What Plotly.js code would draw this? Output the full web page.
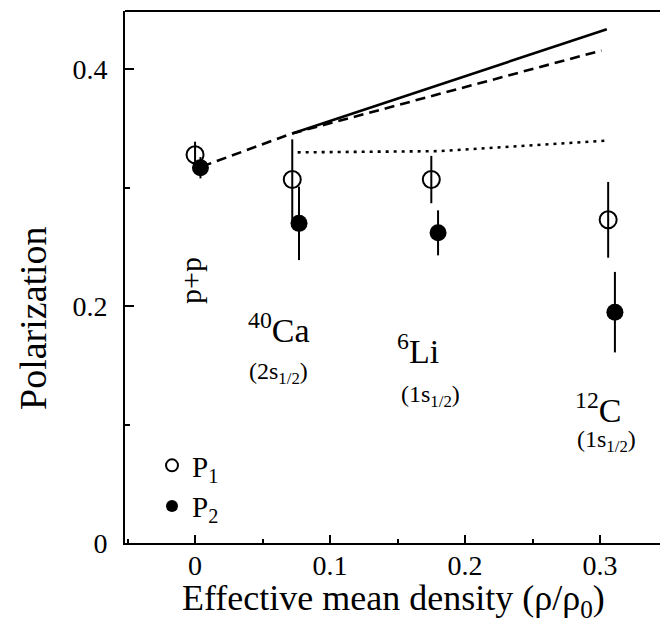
<!DOCTYPE html>
<html>
<head>
<meta charset="utf-8">
<script src="https://cdn.plot.ly/plotly-3.0.1.min.js"></script>
<style>html,body{margin:0;padding:0;background:#fff;overflow:hidden}</style>
</head>
<body>
<div id="chart" style="width:660px;height:624px"></div>
<script>
// Data points (effective mean density, polarization, error)
const nuclei = ["p+p", "40Ca", "6Li", "12C"];
const p1X = [0.000, 0.072, 0.175, 0.306];
const p1Y = [0.328, 0.307, 0.307, 0.273];
const p1Err = [0.011, 0.034, 0.020, 0.032];
const p2X = [0.004, 0.077, 0.180, 0.311];
const p2Y = [0.317, 0.270, 0.262, 0.195];
const p2Err = [0.009, 0.031, 0.019, 0.034];

// Theory curves
const dashX = [0.005, 0.072, 0.301];
const dashY = [0.318, 0.346, 0.416];
const solidX = [0.072, 0.305];
const solidY = [0.346, 0.434];
const dotX = [0.076, 0.18, 0.306];
const dotY = [0.330, 0.331, 0.340];

const xTicks = [0, 0.1, 0.2, 0.3];
const xTickText = ["0", "0.1", "0.2", "0.3"];
const yTicks = [0, 0.2, 0.4];
const yTickText = ["0", "0.2", "0.4"];

const FONT = "Liberation Serif, Times New Roman, serif";
const traces = [
  {x: dashX, y: dashY, mode: "lines", line: {color: "#000", width: 2.6, dash: "10px,6px"}, showlegend: false, hoverinfo: "skip"},
  {x: solidX, y: solidY, mode: "lines", line: {color: "#000", width: 2.6}, showlegend: false, hoverinfo: "skip"},
  {x: dotX, y: dotY, mode: "lines", line: {color: "#000", width: 2.6, dash: "3px,5px"}, showlegend: false, hoverinfo: "skip"},
  {x: p1X, y: p1Y, mode: "markers", showlegend: false, hoverinfo: "skip",
   marker: {symbol: "circle", size: 15, color: "#fff"}},
  {x: p1X, y: p1Y, name: "P<sub>1</sub>", mode: "markers", legendgroup: "a",
   error_y: {type: "data", array: p1Err, width: 0, thickness: 2, color: "#000"},
   marker: {symbol: "circle-open", size: 17, color: "#000", line: {width: 2, color: "#000"}}},
  {x: p2X, y: p2Y, name: "P<sub>2</sub>", mode: "markers", legendgroup: "b",
   error_y: {type: "data", array: p2Err, width: 0, thickness: 2, color: "#000"},
   marker: {symbol: "circle", size: 17, color: "#000"}}
];

const L = 125, R = 660, T = 11, B = 543;
const px = v => (v - L) / (R - L);
const py = v => (B - v) / (B - T);

const layout = {
  width: 660, height: 624,
  margin: {l: 125, r: 0, t: 11, b: 81},
  paper_bgcolor: "#fff", plot_bgcolor: "#fff",
  font: {family: FONT, color: "#000", size: 28},
  showlegend: true,
  legend: {x: px(152), y: py(440), xanchor: "left", yanchor: "top", bgcolor: "rgba(0,0,0,0)",
           font: {size: 29, family: FONT}, traceorder: "grouped", tracegroupgap: 0, itemsizing: "constant"},
  xaxis: {
    range: [-0.0519, 0.3444], showgrid: false, zeroline: false,
    showline: true, linewidth: 2, linecolor: "#000",
    ticks: "inside", ticklen: 8, tickwidth: 2, tickcolor: "#000",
    tickvals: xTicks, ticktext: xTickText, ticklabelstandoff: -4,
    minor: {dtick: 0.05, tick0: 0, ticks: "inside", ticklen: 4, tickwidth: 2, tickcolor: "#000"},
    tickfont: {size: 28, family: FONT}
  },
  yaxis: {
    range: [0, 0.4494], showgrid: false, zeroline: false,
    showline: true, linewidth: 2, linecolor: "#000",
    ticks: "inside", ticklen: 9, tickwidth: 2, tickcolor: "#000",
    tickvals: yTicks, ticktext: yTickText, ticklabelstandoff: 10,
    minor: {dtick: 0.1, tick0: 0, ticks: "inside", ticklen: 5, tickwidth: 2, tickcolor: "#000"},
    tickfont: {size: 28, family: FONT}
  },
  shapes: [{type: "line", xref: "paper", yref: "paper", x0: 0, x1: 1, y0: 1, y1: 1, line: {color: "#000", width: 2}}],
  annotations: [
    {text: "Effective mean density (ρ/ρ<sub>0</sub>)", x: 393, y: 600, font: {size: 36}, xref: "paper", yref: "paper"},
    {text: "Polarization", x: 33, y: 318, textangle: -90, font: {size: 38}, xref: "paper", yref: "paper"},
    {text: "p+p", x: 190, y: 281, textangle: -90, font: {size: 30}},
    {text: "<sup>40</sup>Ca", x: 279, y: 328, font: {size: 34}},
    {text: "(2s<sub>1/2</sub>)", x: 278, y: 373, font: {size: 24}},
    {text: "<sup>6</sup>Li", x: 418, y: 349, font: {size: 34}},
    {text: "(1s<sub>1/2</sub>)", x: 430, y: 396, font: {size: 24}},
    {text: "<sup>12</sup>C", x: 598, y: 408, font: {size: 34}},
    {text: "(1s<sub>1/2</sub>)", x: 606, y: 441, font: {size: 24}}
  ]
};
layout.annotations.forEach(a => {
  a.showarrow = false;
  a.xanchor = "center"; a.yanchor = "middle";
  if (!a.xref) { a.xref = "x domain"; a.yref = "y domain"; }
  a.x = px(a.x);
  a.y = py(a.y);
});
Plotly.newPlot("chart", traces, layout, {displayModeBar: false, staticPlot: true});
</script>
</body>
</html>
